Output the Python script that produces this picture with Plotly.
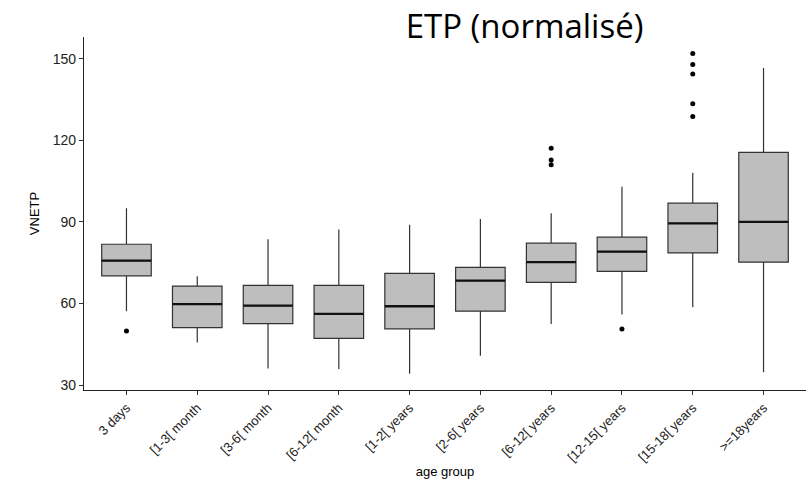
import plotly.graph_objects as go

categories = ["3 days", "[1-3[ month", "[3-6[ month", "[6-12[ month", "[1-2[ years",
              "[2-6[ years", "[6-12[ years", "[12-15[ years", "[15-18[ years", ">=18years"]
lower_whisker = [57.2, 45.7, 36.1, 35.9, 34.2, 40.8, 52.5, 56.0, 58.6, 34.7]
q1 = [70.2, 51.1, 52.6, 47.2, 50.7, 57.2, 67.8, 71.8, 78.6, 75.2]
median = [75.8, 59.8, 59.2, 56.2, 59.0, 68.4, 75.2, 79.1, 89.5, 90.0]
q3 = [81.8, 66.4, 66.7, 66.7, 71.1, 73.3, 82.2, 84.4, 96.9, 115.6]
upper_whisker = [95.0, 70.0, 83.6, 87.2, 89.0, 91.1, 93.2, 102.9, 108.1, 146.6]
outliers = {
    0: [49.9],
    6: [117.1, 112.8, 111.0],
    7: [50.6],
    8: [151.9, 147.9, 144.4, 133.5, 128.8],
}
y_ticks = [30, 60, 90, 120, 150]

box_width = 0.7
xs = list(range(len(categories)))

fig = go.Figure()
fig.add_trace(go.Box(
    x=xs, q1=q1, median=median, q3=q3,
    lowerfence=lower_whisker, upperfence=upper_whisker,
    width=box_width, whiskerwidth=0,
    fillcolor="#BEBEBE", line=dict(color="#333333", width=1.2),
    boxpoints=False, showlegend=False, hoverinfo="skip",
))

# thicker median lines (ggplot style)
mx, my = [], []
for i, m in zip(xs, median):
    mx += [i - box_width / 2, i + box_width / 2, None]
    my += [m, m, None]
fig.add_trace(go.Scatter(x=mx, y=my, mode="lines",
                         line=dict(color="#111111", width=2.3),
                         showlegend=False, hoverinfo="skip"))

ox, oy = [], []
for i, vals in outliers.items():
    for v in vals:
        ox.append(i)
        oy.append(v)
fig.add_trace(go.Scatter(x=ox, y=oy, mode="markers",
                         marker=dict(color="black", size=5),
                         showlegend=False, hoverinfo="skip"))

xtick_font = dict(family="Liberation Sans, Arial, sans-serif", size=13, color="#222222")
ytick_font = dict(family="Liberation Sans, Arial, sans-serif", size=14, color="#222222")
title_font = dict(family="Liberation Sans, Arial, sans-serif", size=13, color="black")

fig.update_layout(
    width=807, height=479,
    margin=dict(l=84, r=1, t=37, b=89),
    plot_bgcolor="white", paper_bgcolor="white",
    title=dict(text="ETP (normalisé)", xref="container", yref="container",
               x=0.65, xanchor="center", y=0.945, yanchor="middle",
               font=dict(family="Open Sans, sans-serif", size=33, color="black")),
    xaxis=dict(
        range=[-0.6, 9.6], tickmode="array", tickvals=xs, ticktext=categories,
        tickangle=-45, showline=True, linecolor="#222222", linewidth=1.2,
        ticks="outside", ticklen=4, tickcolor="#333333", showgrid=False,
        zeroline=False, tickfont=xtick_font, automargin=False,
        title=dict(text="age group", font=title_font, standoff=6),
    ),
    yaxis=dict(
        range=[28.2, 158], tickmode="array", tickvals=y_ticks,
        showline=True, linecolor="#222222", linewidth=1.2,
        ticks="outside", ticklen=4, tickcolor="#333333", showgrid=False,
        zeroline=False, tickfont=ytick_font, automargin=False,
        title=dict(text="VNETP", font=title_font, standoff=10),
    ),
)

fig.write_html("out.html")
